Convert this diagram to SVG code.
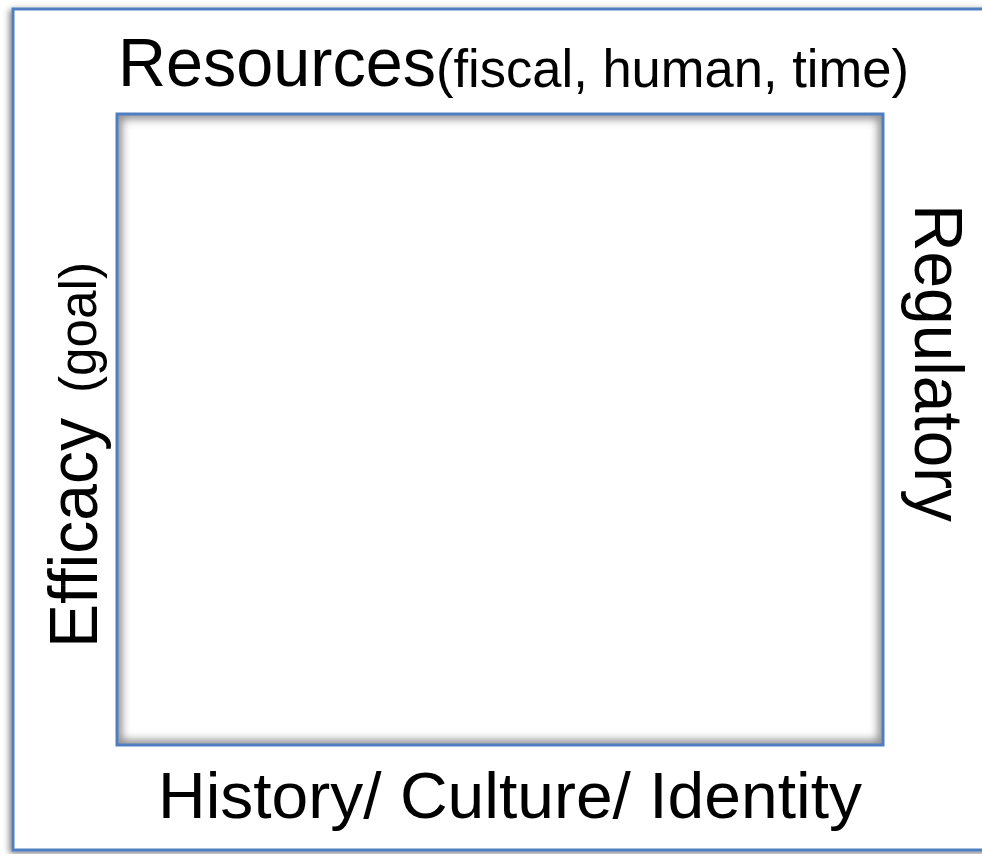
<svg xmlns="http://www.w3.org/2000/svg" width="982" height="854" viewBox="0 0 982 854">
<style>
  .lbl { font-family: "Liberation Sans", Arial, sans-serif; fill: #000; }
  .frame { fill: #fff; stroke: #4f7fc0; stroke-width: 3; }
</style>
<defs>
  <filter id="outerShadow" x="-5%" y="-5%" width="110%" height="110%">
    <feGaussianBlur in="SourceAlpha" stdDeviation="3"/>
    <feOffset dx="-2" dy="2" result="b"/>
    <feComponentTransfer><feFuncA type="linear" slope="0.5"/></feComponentTransfer>
    <feMerge><feMergeNode/><feMergeNode in="SourceGraphic"/></feMerge>
  </filter>
  <filter id="blur4" x="-5%" y="-5%" width="110%" height="110%">
    <feGaussianBlur stdDeviation="4"/>
  </filter>
  <clipPath id="innerClip"><rect x="117" y="114" width="766" height="631"/></clipPath>
</defs>
<rect width="982" height="854" fill="#fff"/>
<g id="outer-frame">
  <rect class="frame" x="13" y="9" width="980" height="841" filter="url(#outerShadow)"/>
</g>
<g id="inner-box">
  <rect x="117" y="114" width="766" height="631" fill="#fff"/>
  <g clip-path="url(#innerClip)">
    <rect x="117" y="114" width="766" height="631" fill="none" stroke="#8a8a8a" stroke-width="10" filter="url(#blur4)"/>
  </g>
  <rect x="117" y="114" width="766" height="631" fill="none" stroke="#4f7fc0" stroke-width="3"/>
</g>
<g id="label-resources">
  <text class="lbl" x="118" y="86" font-size="69" textLength="318" lengthAdjust="spacingAndGlyphs">Resources</text>
  <text class="lbl" x="436" y="87" font-size="53" textLength="473" lengthAdjust="spacingAndGlyphs">(fiscal, human, time)</text>
</g>
<g id="label-history">
  <text class="lbl" x="158" y="818" font-size="65" textLength="704" lengthAdjust="spacingAndGlyphs">History/ Culture/ Identity</text>
</g>
<g id="label-efficacy">
  <text class="lbl" transform="translate(97,648) rotate(-90)" font-size="68" textLength="230" lengthAdjust="spacingAndGlyphs">Efficacy</text>
  <text class="lbl" transform="translate(96,393) rotate(-90)" font-size="51" textLength="131" lengthAdjust="spacingAndGlyphs">(goal)</text>
</g>
<g id="label-regulatory">
  <text class="lbl" transform="translate(915,204) rotate(90)" font-size="68" textLength="318" lengthAdjust="spacingAndGlyphs">Regulatory</text>
</g>
<g id="connectors"></g>
</svg>
